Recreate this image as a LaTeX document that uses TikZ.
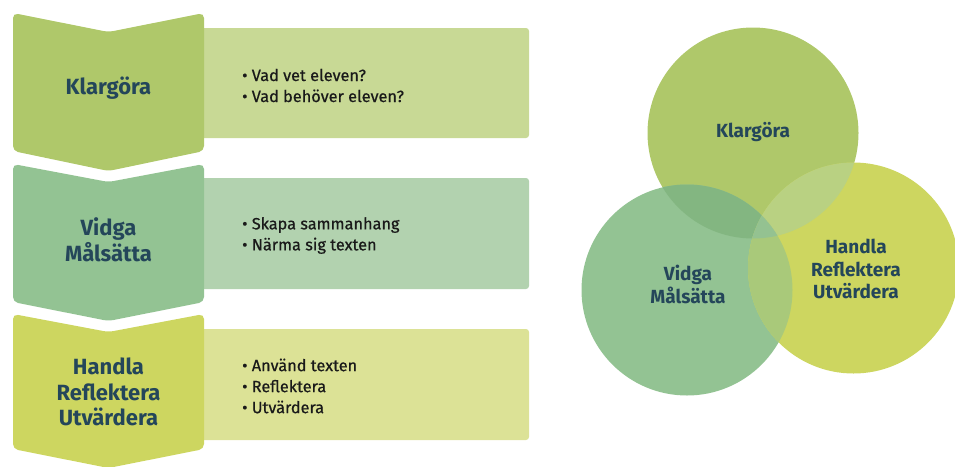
\documentclass[tikz,border=0pt]{standalone}
\usepackage{fontspec}
\setmainfont{Fira Sans}
\definecolor{kchev}{HTML}{AFC86A}
\definecolor{krect}{HTML}{C8D995}
\definecolor{vchev}{HTML}{93C393}
\definecolor{vrect}{HTML}{B2D2AF}
\definecolor{hchev}{HTML}{CDD660}
\definecolor{hrect}{HTML}{DCE296}
\definecolor{labtxt}{HTML}{24465A}
\definecolor{bultxt}{HTML}{1A1A1A}
\definecolor{kv}{HTML}{83B681}
\definecolor{kh}{HTML}{B9D182}
\definecolor{vh}{HTML}{A9C97A}
\definecolor{kvh}{HTML}{94C291}
\tikzset{
  rectbox/.style={rounded corners=3pt},
  chev/.style={rounded corners=5pt},
  lab/.style={font=\fontsize{22}{25.5}\selectfont\bfseries, text=labtxt, align=center, inner sep=0pt},
  clab/.style={font=\fontsize{19}{22.5}\selectfont\bfseries, text=labtxt, align=center, inner sep=0pt},
  bul/.style={font=\fontsize{16.3}{21}\selectfont\addfontfeature{FakeBold=0.6}, text=bultxt, align=left, anchor=west, inner sep=0pt}
}
\begin{document}
\begin{tikzpicture}[x=1pt,y=-1pt]
\useasboundingbox (0,0) rectangle (955,466);
\begin{scope}
\clip (0,0) rectangle (955,466);
% rectangles
\fill[krect,rectbox] (196,28) rectangle (529,138);
\fill[vrect,rectbox] (196,178) rectangle (529,289);
\fill[hrect,rectbox] (196,329) rectangle (529,440);
% chevrons
\fill[kchev,chev] (13,13) -- (108.5,32) -- (204,13) -- (204,151) -- (108.5,171) -- (13,151) -- cycle;
\fill[vchev,chev] (13,164) -- (108.5,182) -- (204,164) -- (204,302) -- (108.5,321) -- (13,302) -- cycle;
\fill[hchev,chev] (13,314) -- (108.5,332) -- (204,314) -- (204,449) -- (108.5,468) -- (13,449) -- cycle;
% circles
\def\Kc{(753,133) circle (105.5)}
\def\Vc{(687,290) circle (105.5)}
\def\Hc{(853.5,268) circle (105.5)}
\fill[kchev] \Kc;
\fill[vchev] \Vc;
\fill[hchev] \Hc;
\begin{scope}\clip \Kc; \fill[kv] \Vc; \end{scope}
\begin{scope}\clip \Kc; \fill[kh] \Hc; \end{scope}
\begin{scope}\clip \Vc; \fill[vh] \Hc; \end{scope}
\begin{scope}\clip \Kc; \clip \Vc; \fill[kvh] \Hc; \end{scope}
\end{scope}
% chevron labels
\node[lab] (l1) at (108.5,88) {Klargöra};
\node[lab] (l2) at (108.5,240) {Vidga\\Målsätta};
\node[lab] (l3) at (108.5,392) {Handla\\Reflektera\\Utvärdera};
% bullet texts
\node[bul] (b1) at (242,85.5) {• Vad vet eleven?\\• Vad behöver eleven?};
\node[bul] (b2) at (242,235.5) {• Skapa sammanhang\\• Närma sig texten};
\node[bul] (b3) at (242,386) {• Använd texten\\• Reflektera\\• Utvärdera};
% circle labels
\node[clab] (c1) at (753,132) {Klargöra};
\node[clab] (c2) at (688,284.5) {Vidga\\Målsätta};
\node[clab] (c3) at (856,269) {Handla\\Reflektera\\Utvärdera};
\end{tikzpicture}
\end{document}
